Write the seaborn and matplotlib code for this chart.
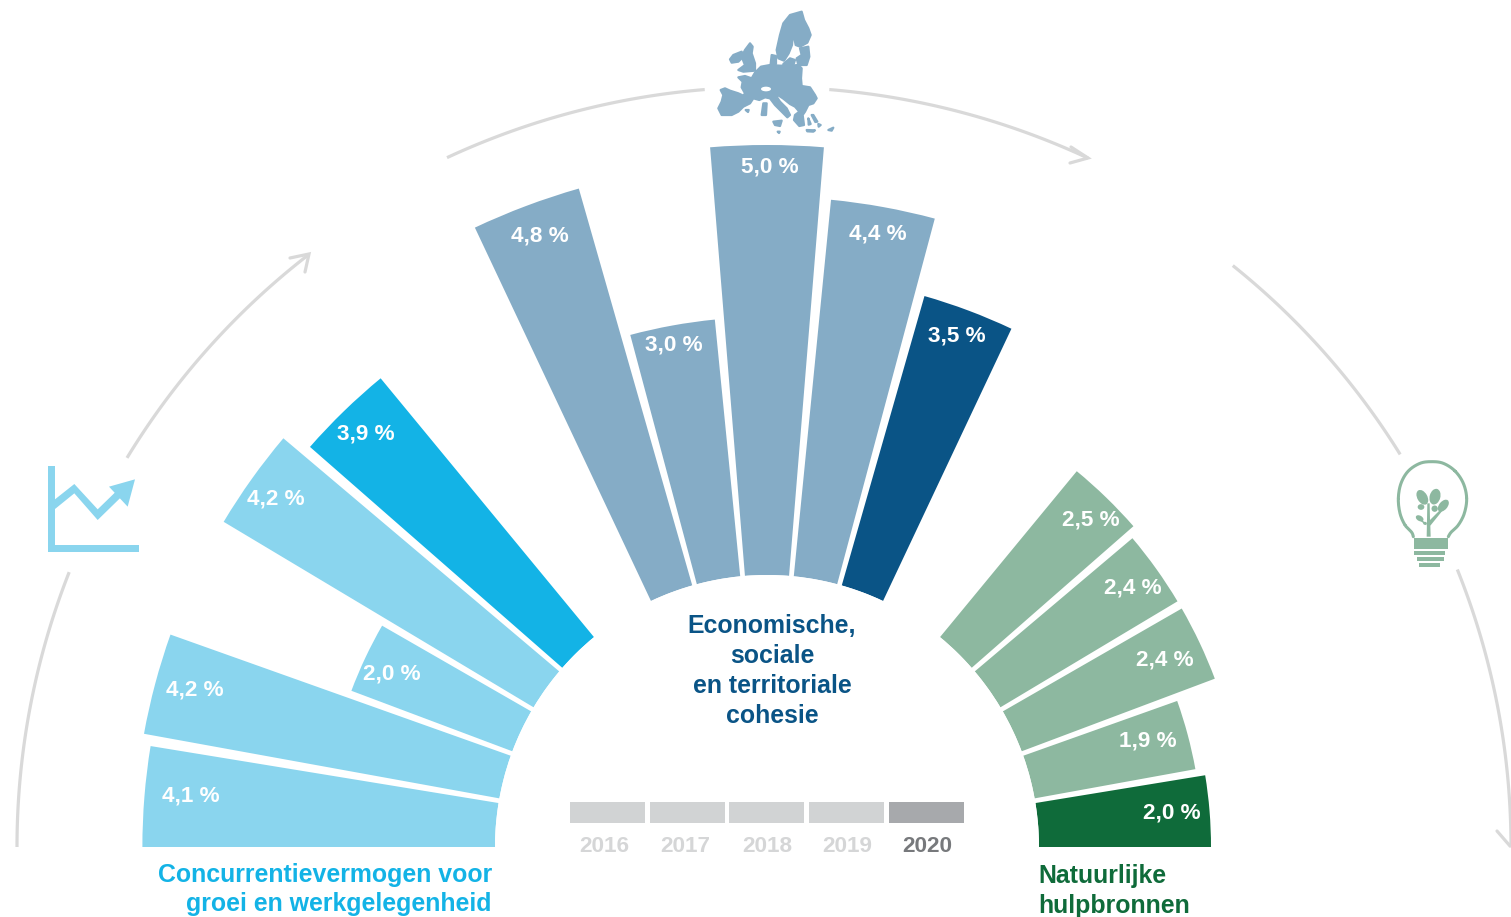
import numpy as np
import pandas as pd
import matplotlib
matplotlib.use("Agg")
import matplotlib.pyplot as plt
from matplotlib.patches import Polygon, Ellipse, Rectangle
import seaborn as sns

# ---- data ----
years = ["2016", "2017", "2018", "2019", "2020"]
competitiveness = [4.1, 4.2, 2.0, 4.2, 3.9]
cohesion = [4.8, 3.0, 5.0, 4.4, 3.5]
natural = [2.5, 2.4, 2.4, 1.9, 2.0]
group_titles = ["Concurrentievermogen voor\ngroei en werkgelegenheid",
                "Economische,\nsociale\nen territoriale\ncohesie",
                "Natuurlijke\nhulpbronnen"]

# ---- styling ----
C_LBLUE, C_BLUE = "#8AD5EE", "#13B3E6"
C_LSTEEL, C_NAVY = "#85ACC6", "#0A5486"
C_LGREEN, C_GREEN = "#8DB8A0", "#0F6B3A"
C_ARC = "#D9D9D9"
W, H = 1511, 917
CX, CY = 767, 847           # chart centre in pixels
R0 = 272                    # inner radius in pixels
PX_PER_UNIT = 86
AX_R = 800

sns.set_theme(style="white")
plt.rcParams["font.family"] = ["Liberation Sans", "DejaVu Sans"]

STEP = 10.3
BAR_W = 9.3
rows = []
for i, (y, v) in enumerate(zip(years, competitiveness)):
    rows.append(("C", y, v, 180 - (BAR_W / 2 + STEP * i), C_BLUE if y == "2020" else C_LBLUE))
for i, (y, v) in enumerate(zip(years, cohesion)):
    rows.append(("E", y, v, 90 + STEP * (2 - i), C_NAVY if y == "2020" else C_LSTEEL))
for i, (y, v) in enumerate(zip(years, natural)):
    rows.append(("N", y, v, BAR_W / 2 + STEP * (4 - i), C_GREEN if y == "2020" else C_LGREEN))
df = pd.DataFrame(rows, columns=["group", "year", "value", "deg", "color"])
df["theta"] = np.round(np.radians(df["deg"]), 6)
df["bar"] = df["group"] + df["year"]

fig = plt.figure(figsize=(W / 100, H / 100), dpi=100, facecolor="white")
ax = fig.add_axes([(CX - AX_R) / W, 1 - (CY + AX_R) / H, 2 * AX_R / W, 2 * AX_R / H],
                  projection="polar")
sns.barplot(data=df, x="theta", y="value", hue="bar", palette=dict(zip(df["bar"], df["color"])),
            native_scale=True, dodge=False, width=BAR_W / STEP, saturation=1, legend=False, ax=ax,
            errorbar=None, linewidth=0)
ax.set_rlim(0, (AX_R - R0) / PX_PER_UNIT)
ax.set_rorigin(-R0 / PX_PER_UNIT)
ax.set_thetalim(0, 2 * np.pi)
ax.grid(False)
ax.set_xticks([]); ax.set_yticks([])
ax.set_xlabel(""); ax.set_ylabel("")
for sp in ax.spines.values():
    sp.set_linewidth(0)
    sp.set_edgecolor("none")
ax.patch.set_alpha(0)

# ---- overlay in pixel coordinates for text, arcs, icons, legend ----
ov = fig.add_axes([0, 0, 1, 1])
ov.set_xlim(0, W); ov.set_ylim(H, 0); ov.axis("off"); ov.patch.set_alpha(0)


def arc(a0, a1, r, cx=CX, cy=CY):
    t = np.radians(np.linspace(a0, a1, 80))
    ov.plot(cx + r * np.cos(t), cy - r * np.sin(t), color=C_ARC, lw=2.3, solid_capstyle="butt")


arc(180, 158.5, 750)
arc(148.7, 127.8, 749)
arc(114.9, 94.7, 760)
arc(85.3, 65.0, 760)
arc(51.3, 31.8, 745)
arc(21.9, 0, 744)
for pts in ([(290, 258), (309, 254), (305, 272)],
            [(1071, 147), (1088, 158), (1070, 163)],
            [(1497, 831), (1510, 846), (1511, 846)]):
    ov.plot(*zip(*pts), color=C_ARC, lw=2.3, solid_joinstyle="miter")

# value labels
label_xy = [(191, 796), (195, 690), (392, 674), (276, 499), (366, 434),
            (540, 236), (674, 345), (770, 167), (878, 234), (957, 336),
            (1091, 520), (1133, 588), (1165, 660), (1148, 741), (1172, 813)]
for (x, y), v in zip(label_xy, df["value"]):
    ov.text(x, y, f"{v:.1f} %".replace(".", ","), color="white", fontsize=16.2, fontweight="bold",
            ha="center", va="center")

# group titles
LH = 30
TS = 17.95
for i, line in enumerate(group_titles[0].split("\n")):
    ov.text(492, 875 + i * 29.5, line, color=C_BLUE, fontsize=TS, fontweight="bold", ha="right", va="center")
for i, line in enumerate(group_titles[1].split("\n")):
    ov.text(772, 626 + i * LH, line, color=C_NAVY, fontsize=TS, fontweight="bold", ha="center", va="center")
for i, line in enumerate(group_titles[2].split("\n")):
    ov.text(1038, 876 + i * 29.5, line, color=C_GREEN, fontsize=TS, fontweight="bold", ha="left", va="center")

# year legend
leg_x = [570, 649.7, 729.3, 809, 888.6]
leg_lab = [604, 685, 767, 847, 927]
for x, lx, y in zip(leg_x, leg_lab, years):
    last = y == "2020"
    ov.add_patch(Rectangle((x, 802), 75, 21, fc="#A7A9AC" if last else "#D1D3D4", ec="none"))
    ov.text(lx, 846, y, color="#77797C" if last else "#D5D6D7", fontsize=16.2, fontweight="bold",
            ha="center", va="center")


# ---- icons ----
def zpoly(pts, ox, oy, color, lw=0.0):
    ov.add_patch(Polygon([(ox + a / 3, oy + b / 3) for a, b in pts], closed=True, fc=color,
                         ec=color if lw else "none", lw=lw, joinstyle="round"))


# chart icon
zp = (35, 455)
zpoly([(40, 33), (60, 33), (60, 270), (312, 270), (312, 290), (40, 290)], *zp, C_LBLUE)
zpoly([(60, 133), (118, 87), (188, 163), (258, 95), (270, 115), (188, 195), (118, 115), (60, 162)], *zp, C_LBLUE)
zpoly([(300, 73), (222, 95), (278, 155)], *zp, C_LBLUE)

# EU map
zp = (700, 0)
eu = [
    [(62, 270), (75, 265), (90, 272), (115, 280), (130, 287), (135, 280), (125, 262), (128, 245), (115, 232),
     (135, 228), (155, 235), (165, 218), (183, 200), (210, 195), (240, 197), (270, 197), (295, 195), (305, 205),
     (303, 235), (305, 258), (330, 262), (345, 285), (350, 295), (340, 310), (325, 315), (315, 335), (308, 345),
     (312, 375), (298, 378), (282, 360), (285, 345), (298, 335), (285, 320), (270, 312), (250, 296), (235, 286),
     (230, 290), (240, 305), (260, 325), (270, 345), (262, 352), (245, 335), (225, 315), (210, 295), (195, 292),
     (178, 300), (160, 295), (150, 310), (130, 320), (115, 335), (95, 345), (65, 345), (55, 325), (65, 305), (70, 285)],
    [(305, 35), (312, 60), (325, 85), (332, 105), (322, 128), (300, 140), (287, 135), (282, 110), (292, 85),
     (287, 80), (278, 110), (276, 135), (266, 160), (252, 182), (235, 175), (230, 150), (240, 105), (250, 70), (270, 45)],
    [(300, 145), (325, 140), (328, 170), (320, 195), (295, 195), (290, 175), (305, 165)],
    [(215, 165), (228, 168), (228, 192), (212, 192)],
    [(250, 192), (270, 175), (285, 180), (280, 195), (250, 197)],
    [(150, 130), (158, 140), (155, 160), (165, 190), (165, 212), (130, 215), (115, 210), (135, 195), (125, 170), (135, 150)],
    [(100, 165), (125, 155), (130, 170), (115, 185), (95, 188), (90, 178)],
    [(190, 310), (200, 310), (198, 345), (185, 345)],
    [(220, 365), (245, 362), (240, 378), (225, 375)],
    [(137, 330), (146, 330), (144, 336)],
    [(320, 390), (345, 391), (340, 395), (322, 394)],
    [(385, 390), (400, 383), (395, 392)],
    [(335, 345), (340, 345), (352, 365), (346, 366)],
    [(325, 355), (332, 372), (326, 374)],
    [(355, 372), (362, 375), (356, 380)],
    [(233, 395), (239, 395), (237, 399)],
]
for poly in eu:
    zpoly(poly, *zp, C_LSTEEL, lw=1.6)
ov.add_patch(Ellipse((700 + 198 / 3, 267 / 3), 30 / 3, 14 / 3, fc="white", ec="none"))

# bulb
bulb = [(85, 245), (80, 232), (60, 210), (45, 175), (40, 130), (48, 85), (70, 48), (105, 25), (140, 20),
        (175, 25), (210, 48), (235, 85), (245, 130), (238, 175), (220, 210), (198, 232), (190, 245)]
bx = np.array([1385 + p[0] / 3 for p in bulb])
by = np.array([455 + p[1] / 3 for p in bulb])


def cr(v):
    # Catmull-Rom smoothing of the traced outline
    out = []
    v2 = np.r_[v[0], v, v[-1]]
    for i in range(len(v) - 1):
        p0, p1, p2, p3 = v2[i:i + 4]
        u = np.linspace(0, 1, 12)
        out.append(0.5 * (2 * p1 + (p2 - p0) * u + (2 * p0 - 5 * p1 + 4 * p2 - p3) * u ** 2
                          + (3 * p1 - p0 - 3 * p2 + p3) * u ** 3))
    return np.concatenate(out)


ov.plot(cr(bx), cr(by), color=C_LGREEN, lw=2.2)
zp = (1385, 455)
for (x0, y0, x1, y1) in [(88, 248, 188, 281), (87, 287, 181, 301), (95, 305, 176, 319), (102, 323, 165, 337)]:
    ov.add_patch(Rectangle((1385 + x0 / 3, 455 + y0 / 3), (x1 - x0) / 3, (y1 - y0) / 3, fc=C_LGREEN, ec="none"))
zpoly([(125, 245), (127, 145), (134, 145), (135, 195), (170, 160), (174, 165), (136, 212), (137, 245)], *zp, C_LGREEN)
zpoly([(100, 188), (124, 205), (124, 211), (100, 193)], *zp, C_LGREEN)
for (x, y, w, h, a) in [(112, 127, 30, 48, -30), (150, 125, 32, 48, 15), (175, 152, 25, 42, 40),
                        (108, 156, 20, 17, 0), (149, 161, 19, 19, 0), (104, 190, 25, 16, 30), (120, 205, 11, 9, 0)]:
    ov.add_patch(Ellipse((1385 + x / 3, 455 + y / 3), w / 3, h / 3, angle=a, fc=C_LGREEN, ec="none"))

fig.savefig("out.png", dpi=100, facecolor="white")
